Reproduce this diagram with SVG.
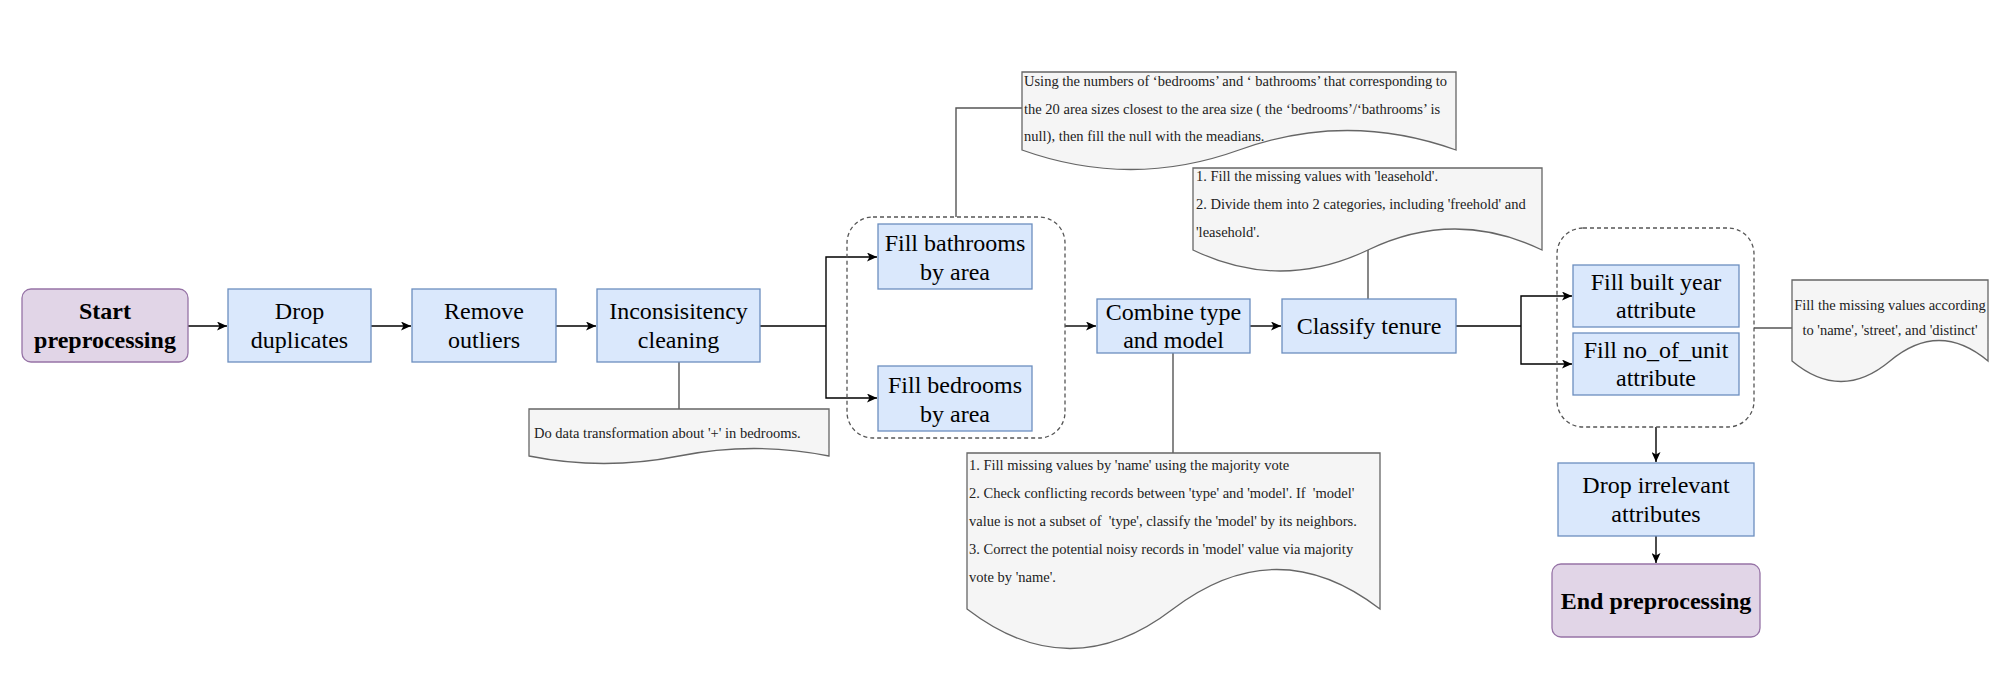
<svg xmlns="http://www.w3.org/2000/svg" width="2008" height="684" viewBox="0 0 2008 684">
<defs>
<style>
.proc{fill:#dae8fc;stroke:#6c8ebf;stroke-width:1.3}
.term{fill:#e1d5e7;stroke:#9673a6;stroke-width:1.3}
.note{fill:#f5f5f5;stroke:#666666;stroke-width:1.3}
.grp{fill:none;stroke:#555555;stroke-width:1.3;stroke-dasharray:4 3}
.lbl{font-family:"Liberation Serif","Times New Roman",serif;font-size:24px;fill:#000;text-anchor:middle}
.bold{font-weight:bold}
.nt{font-family:"Liberation Serif","Times New Roman",serif;font-size:14.5px;fill:#222;white-space:pre}
.arrow{fill:none;stroke:#000;stroke-width:1.4;marker-end:url(#ah)}
.line{fill:none;stroke:#000;stroke-width:1.4}
.nline{fill:none;stroke:#555;stroke-width:1.4}
</style>
<marker id="ah" markerUnits="userSpaceOnUse" markerWidth="11" markerHeight="9" refX="10" refY="4.5" orient="auto">
<path d="M0,0 L10,4.5 L0,9 L2.5,4.5 z" fill="#000"/>
</marker>
</defs>
<rect width="2008" height="684" fill="#ffffff"/>

<g id="connectors">
<path class="arrow" d="M188,326 H227"/>
<path class="arrow" d="M371,326 H411"/>
<path class="arrow" d="M556,326 H596"/>
<path class="line" d="M760,326 H826"/>
<path class="arrow" d="M826,326 V257 H877"/>
<path class="arrow" d="M826,326 V398 H877"/>
<path class="arrow" d="M1065,326 H1096"/>
<path class="arrow" d="M1250,326 H1281"/>
<path class="line" d="M1456,326 H1521"/>
<path class="arrow" d="M1521,326 V296 H1572"/>
<path class="arrow" d="M1521,326 V364 H1572"/>
<path class="arrow" d="M1656,427 V462"/>
<path class="arrow" d="M1656,536 V563"/>
<path class="nline" d="M679,362 V409"/>
<path class="nline" d="M956,217 V108 H1022"/>
<path class="nline" d="M1368,299 V250"/>
<path class="nline" d="M1173,353 V453"/>
<path class="nline" d="M1754,328 H1792"/>
</g>

<g id="group-fill-rooms"><rect class="grp" x="847" y="217" width="218" height="221" rx="26"/></g>
<g id="group-fill-attrs"><rect class="grp" x="1557" y="228" width="197" height="199" rx="26"/></g>

<g id="start"><rect class="term" x="22" y="289" width="166" height="73" rx="9"/>
<text class="lbl bold" x="105" y="319">Start</text><text class="lbl bold" x="105" y="348">preprocessing</text></g>

<g id="drop-duplicates"><rect class="proc" x="228" y="289" width="143" height="73"/>
<text class="lbl" x="299.5" y="319">Drop</text><text class="lbl" x="299.5" y="348">duplicates</text></g>

<g id="remove-outliers"><rect class="proc" x="412" y="289" width="144" height="73"/>
<text class="lbl" x="484" y="319">Remove</text><text class="lbl" x="484" y="348">outliers</text></g>

<g id="inconsistency"><rect class="proc" x="597" y="289" width="163" height="73"/>
<text class="lbl" x="678.5" y="319">Inconsisitency</text><text class="lbl" x="678.5" y="348">cleaning</text></g>

<g id="fill-bathrooms"><rect class="proc" x="878" y="224" width="154" height="65"/>
<text class="lbl" x="955" y="251">Fill bathrooms</text><text class="lbl" x="955" y="280">by area</text></g>

<g id="fill-bedrooms"><rect class="proc" x="878" y="366" width="154" height="65"/>
<text class="lbl" x="955" y="393">Fill bedrooms</text><text class="lbl" x="955" y="422">by area</text></g>

<g id="combine"><rect class="proc" x="1097" y="299" width="153" height="54"/>
<text class="lbl" x="1173.5" y="320">Combine type</text><text class="lbl" x="1173.5" y="348">and model</text></g>

<g id="classify"><rect class="proc" x="1282" y="299" width="174" height="54"/>
<text class="lbl" x="1369" y="334">Classify tenure</text></g>

<g id="fill-built-year"><rect class="proc" x="1573" y="265" width="166" height="62"/>
<text class="lbl" x="1656" y="290">Fill built year</text><text class="lbl" x="1656" y="318">attribute</text></g>

<g id="fill-no-of-unit"><rect class="proc" x="1573" y="333" width="166" height="62"/>
<text class="lbl" x="1656" y="358">Fill no_of_unit</text><text class="lbl" x="1656" y="386">attribute</text></g>

<g id="drop-irrelevant"><rect class="proc" x="1558" y="463" width="196" height="73"/>
<text class="lbl" x="1656" y="493">Drop irrelevant</text><text class="lbl" x="1656" y="522">attributes</text></g>

<g id="end"><rect class="term" x="1552" y="564" width="208" height="73" rx="9"/>
<text class="lbl bold" x="1656" y="609">End preprocessing</text></g>

<g id="note-inconsistency"><path class="note" d="M529,409 H829 V456 Q754,441 679,456 Q604,471 529,456 Z"/>
<text class="nt" x="534" y="438">Do data transformation about '+' in bedrooms.</text></g>

<g id="note-fill-rooms"><path class="note" d="M1022,72 H1456 V150 Q1347,111 1239,150 Q1131,189 1022,150 Z"/>
<text class="nt" x="1024" y="86">Using the numbers of ‘bedrooms’ and ‘ bathrooms’ that corresponding to</text>
<text class="nt" x="1024" y="113.5">the 20 area sizes closest to the area size ( the ‘bedrooms’/‘bathrooms’ is</text>
<text class="nt" x="1024" y="141">null), then fill the null with the meadians.</text></g>

<g id="note-tenure"><path class="note" d="M1193,168 H1542 V250 Q1455,208 1368,250 Q1280,292 1193,250 Z"/>
<text class="nt" x="1196" y="181">1. Fill the missing values with 'leasehold'.</text>
<text class="nt" x="1196" y="209">2. Divide them into 2 categories, including 'freehold' and</text>
<text class="nt" x="1196" y="237">'leasehold'.</text></g>

<g id="note-combine"><path class="note" d="M967,453 H1380 V609 Q1277,530 1173,609 Q1070,688 967,609 Z"/>
<text class="nt" x="969" y="470" font-size="15.5">1. Fill missing values by 'name' using the majority vote</text>
<text class="nt" x="969" y="498" font-size="15.5">2. Check conflicting records between 'type' and 'model'. If  'model'</text>
<text class="nt" x="969" y="526" font-size="15.5">value is not a subset of  'type', classify the 'model' by its neighbors.</text>
<text class="nt" x="969" y="554" font-size="15.5">3. Correct the potential noisy records in 'model' value via majority</text>
<text class="nt" x="969" y="582" font-size="15.5">vote by 'name'.</text></g>

<g id="note-attrs"><path class="note" d="M1792,280 H1988 V361 Q1939,320 1890,361 Q1841,402 1792,361 Z"/>
<text class="nt" x="1890" y="310" text-anchor="middle" font-size="14">Fill the missing values according</text>
<text class="nt" x="1890" y="335" text-anchor="middle" font-size="14">to 'name', 'street', and 'distinct'</text></g>
</svg>
